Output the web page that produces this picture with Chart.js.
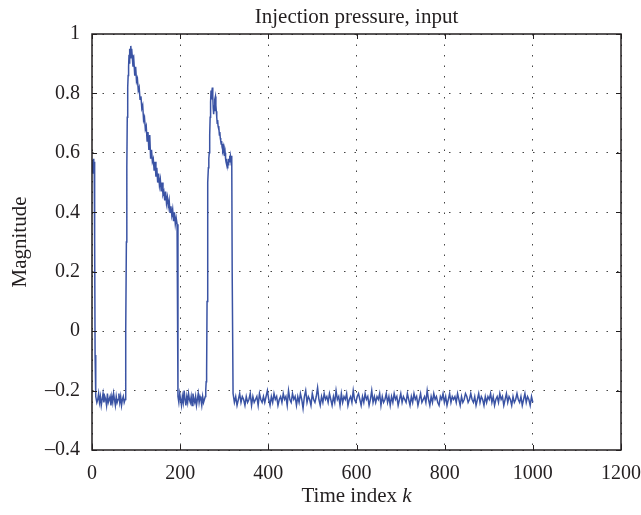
<!DOCTYPE html>
<html>
<head>
<meta charset="utf-8">
<title>Injection pressure, input</title>
<script src="https://cdn.jsdelivr.net/npm/chart.js@4.4.1/dist/chart.umd.min.js"></script>
<style>
  html, body { margin: 0; padding: 0; background: #fff; }
</style>
</head>
<body>
<canvas id="pressureChart" width="641" height="515"></canvas>
<script>
const SERIF = '"Liberation Serif", "Times New Roman", serif';
const INK = '#231f20';
const LINE_BLUE = '#3a53a4';

const chartTitle = 'Injection pressure, input';
const yTitle = 'Magnitude';
const xTitle = 'Time index ';
const xTitleVar = 'k';

// axis ranges / tick steps
const xRange = [0, 1200];
const xStep = 200;
const yRange = [-0.4, 1];
const yStep = 0.2;

// signal: [first k, last k] + magnitudes
const onsetK = [1, 8];
const onsetMag = [0.57, 0.53, 0.58, 0.55, 0.57, 0.31, -0.08, -0.21];

const low1K = [9, 75];
const low1Mag = [
  -0.22, -0.24, -0.23, -0.21, -0.24, -0.22, -0.25, -0.23, -0.21, -0.24, -0.22, -0.23,
  -0.25, -0.21, -0.24, -0.23, -0.22, -0.25, -0.22, -0.24, -0.21, -0.23, -0.25, -0.22,
  -0.24, -0.23, -0.21, -0.24, -0.22, -0.25, -0.23, -0.22, -0.24, -0.23
];

const rise1K = [76, 90];
const rise1Mag = [-0.2, 0.0, 0.3, 0.55, 0.72, 0.82, 0.86, 0.89, 0.93, 0.90, 0.95, 0.92, 0.96, 0.93, 0.95];

const decay1K = [91, 193];
const decay1Mag = [
  0.93, 0.89, 0.91, 0.86, 0.89, 0.84, 0.85, 0.81, 0.82, 0.78, 0.79, 0.75,
  0.76, 0.71, 0.72, 0.68, 0.69, 0.64, 0.67, 0.61, 0.66, 0.58, 0.61, 0.57,
  0.58, 0.54, 0.57, 0.52, 0.55, 0.50, 0.53, 0.49, 0.51, 0.47, 0.50, 0.46,
  0.47, 0.44, 0.47, 0.43, 0.45, 0.42, 0.44, 0.40, 0.42, 0.39, 0.41, 0.37,
  0.40, 0.36, 0.38, 0.36
];

const low2K = [195, 257];
const low2Mag = [
  -0.22, -0.24, -0.21, -0.23, -0.25, -0.22, -0.24, -0.20, -0.23, -0.25, -0.22, -0.24,
  -0.21, -0.23, -0.24, -0.22, -0.25, -0.21, -0.23, -0.24, -0.22, -0.25, -0.23, -0.21,
  -0.24, -0.22, -0.23, -0.25, -0.22, -0.24, -0.23, -0.22
];

const pulse2K = [258, 318];
const pulse2Mag = [
  -0.20, -0.17, -0.14, 0.10, 0.44, 0.50, 0.55, 0.58, 0.60, 0.66,
  0.72, 0.77, 0.81, 0.78, 0.80, 0.82, 0.79, 0.75, 0.73, 0.76,
  0.74, 0.78, 0.79, 0.76, 0.74, 0.72, 0.70, 0.71, 0.69, 0.68,
  0.69, 0.66, 0.67, 0.65, 0.64, 0.63, 0.64, 0.62, 0.63, 0.61,
  0.62, 0.60, 0.61, 0.59, 0.60, 0.58, 0.57, 0.56, 0.58, 0.55,
  0.57, 0.56, 0.58, 0.57, 0.59, 0.57, 0.59, 0.58, 0.56, 0.59,
  0.20
];

const low3K = [320, 1000];
const low3Mag = [
  -0.21, -0.24, -0.22, -0.25, -0.23, -0.21, -0.24, -0.22, -0.23, -0.25, -0.22, -0.24,
  -0.23, -0.21, -0.25, -0.22, -0.24, -0.23, -0.22, -0.25, -0.21, -0.23, -0.24, -0.22,
  -0.24, -0.22, -0.20, -0.23, -0.25, -0.22, -0.24, -0.21, -0.23, -0.22, -0.25, -0.23,
  -0.22, -0.24, -0.21, -0.23, -0.22, -0.25, -0.20, -0.23, -0.24, -0.21, -0.23, -0.22,
  -0.25, -0.22, -0.24, -0.21, -0.23, -0.26, -0.22, -0.20, -0.24, -0.22, -0.23, -0.25,
  -0.21, -0.23, -0.24, -0.22, -0.19, -0.23, -0.25, -0.22, -0.24, -0.21, -0.23, -0.22,
  -0.24, -0.21, -0.23, -0.25, -0.22, -0.24, -0.20, -0.23, -0.22, -0.25, -0.21, -0.24,
  -0.22, -0.23, -0.21, -0.25, -0.23, -0.22, -0.24, -0.20, -0.23, -0.24, -0.22, -0.21,
  -0.23, -0.25, -0.22, -0.24, -0.21, -0.23, -0.22, -0.25, -0.23, -0.20, -0.24, -0.22,
  -0.24, -0.22, -0.23, -0.21, -0.25, -0.22, -0.24, -0.23, -0.21, -0.24, -0.22, -0.25,
  -0.22, -0.24, -0.21, -0.23, -0.22, -0.25, -0.23, -0.21, -0.24, -0.22, -0.23, -0.24,
  -0.21, -0.23, -0.25, -0.22, -0.24, -0.21, -0.23, -0.22, -0.25, -0.23, -0.21, -0.24,
  -0.23, -0.22, -0.24, -0.20, -0.23, -0.25, -0.22, -0.24, -0.21, -0.23, -0.22, -0.24,
  -0.25, -0.22, -0.23, -0.21, -0.24, -0.22, -0.25, -0.23, -0.21, -0.24, -0.22, -0.23,
  -0.22, -0.24, -0.21, -0.23, -0.25, -0.22, -0.24, -0.23, -0.21, -0.22, -0.24, -0.23,
  -0.21, -0.23, -0.24, -0.22, -0.25, -0.23, -0.21, -0.24, -0.22, -0.23, -0.25, -0.22,
  -0.24, -0.22, -0.23, -0.21, -0.24, -0.22, -0.25, -0.23, -0.22, -0.24, -0.21, -0.23,
  -0.22, -0.25, -0.23, -0.21, -0.24, -0.22, -0.23, -0.25, -0.22, -0.24, -0.23, -0.21,
  -0.23, -0.24, -0.22, -0.25, -0.23, -0.21, -0.24, -0.22, -0.23, -0.25, -0.22, -0.24
];

// spread a segment's samples evenly over its k range
function toPoints(range, values) {
  const [a, b] = range;
  const step = values.length > 1 ? (b - a) / (values.length - 1) : 0;
  return values.map((v, i) => ({ x: a + i * step, y: v }));
}

const seriesPoints = [].concat(
  toPoints(onsetK, onsetMag),
  toPoints(low1K, low1Mag),
  toPoints(rise1K, rise1Mag),
  toPoints(decay1K, decay1Mag),
  toPoints(low2K, low2Mag),
  toPoints(pulse2K, pulse2Mag),
  toPoints(low3K, low3Mag)
);

// MATLAB-like labels: en dash for negatives, no thousands separator
function fmtTick(v) {
  const r = Math.round(v * 10) / 10;
  if (r === 0) return '0';
  return r < 0 ? '\u2013' + String(-r) : String(r);
}

// box, inward ticks, title and axis labels
const matlabFrame = {
  id: 'matlabFrame',
  afterDraw(chart) {
    const { ctx, chartArea, scales } = chart;
    const { left, right, top, bottom } = chartArea;
    ctx.save();
    ctx.strokeStyle = INK;
    ctx.lineWidth = 1.5;
    ctx.strokeRect(left, top, right - left, bottom - top);

    ctx.lineWidth = 1;
    ctx.beginPath();
    scales.x.ticks.forEach((t) => {
      const px = Math.round(scales.x.getPixelForValue(t.value)) + 0.5;
      ctx.moveTo(px, bottom); ctx.lineTo(px, bottom - 5);
      ctx.moveTo(px, top); ctx.lineTo(px, top + 5);
    });
    scales.y.ticks.forEach((t) => {
      const py = Math.round(scales.y.getPixelForValue(t.value)) + 0.5;
      ctx.moveTo(left, py); ctx.lineTo(left + 5, py);
      ctx.moveTo(right, py); ctx.lineTo(right - 5, py);
    });
    ctx.stroke();

    ctx.fillStyle = INK;
    const cx = (left + right) / 2;
    ctx.font = '21px ' + SERIF;
    ctx.textAlign = 'center';
    ctx.textBaseline = 'alphabetic';
    ctx.fillText(chartTitle, cx, 23);

    const w1 = ctx.measureText(xTitle).width;
    ctx.font = 'italic 21px ' + SERIF;
    const w2 = ctx.measureText(xTitleVar).width;
    const x0 = cx - (w1 + w2) / 2;
    ctx.textAlign = 'left';
    ctx.font = '21px ' + SERIF;
    ctx.fillText(xTitle, x0, 502);
    ctx.font = 'italic 21px ' + SERIF;
    ctx.fillText(xTitleVar, x0 + w1, 502);

    ctx.font = '21px ' + SERIF;
    ctx.textAlign = 'center';
    ctx.translate(26, (top + bottom) / 2);
    ctx.rotate(-Math.PI / 2);
    ctx.fillText(yTitle, 0, 0);
    ctx.restore();
  }
};

const gridStyle = { color: '#444', lineWidth: 1, drawTicks: false };
const gridBorder = { display: false, dash: [1.5, 9] };

new Chart(document.getElementById('pressureChart'), {
  type: 'line',
  data: {
    datasets: [{
      label: 'Injection pressure',
      data: seriesPoints,
      borderColor: LINE_BLUE,
      borderWidth: 1.5,
      pointRadius: 0,
      tension: 0,
      fill: false,
    }],
  },
  options: {
    responsive: false,
    animation: false,
    layout: { padding: { top: 34, right: 20, bottom: 0, left: 0 } },
    plugins: { legend: { display: false }, tooltip: { enabled: false }, title: { display: false } },
    scales: {
      x: {
        type: 'linear',
        min: xRange[0],
        max: xRange[1],
        afterFit: (s) => { s.height = 65; s.paddingRight = 20; s.paddingLeft = 0; },
        ticks: { stepSize: xStep, color: INK, font: { family: SERIF, size: 20 }, padding: 12, maxRotation: 0, callback: (v) => String(v) },
        grid: gridStyle,
        border: gridBorder,
      },
      y: {
        type: 'linear',
        min: yRange[0],
        max: yRange[1],
        afterFit: (s) => { s.width = 92; },
        ticks: { stepSize: yStep, color: INK, font: { family: SERIF, size: 20 }, padding: 12, callback: fmtTick },
        grid: gridStyle,
        border: gridBorder,
      },
    },
  },
  plugins: [matlabFrame],
});
</script>
</body>
</html>
